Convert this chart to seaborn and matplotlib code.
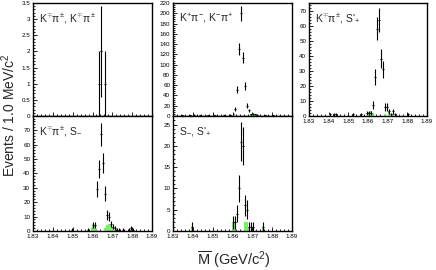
import numpy as np
import pandas as pd
import seaborn as sns
import matplotlib
matplotlib.use("Agg")
import matplotlib.pyplot as plt
from matplotlib.ticker import MultipleLocator, AutoMinorLocator, FuncFormatter, NullFormatter

# bin centres (GeV/c^2) and event counts per 1 MeV bin
kpikpi_mass = [1.8635, 1.8645, 1.8665]
kpikpi_counts = [1, 2, 1]

kpkm_mass = [1.8345, 1.8385, 1.8405, 1.8435, 1.8475, 1.8505, 1.8555, 1.8585, 1.8605,
             1.8615, 1.8625, 1.8635, 1.8645, 1.8655, 1.8665, 1.8675, 1.8685, 1.8695,
             1.8705, 1.8715, 1.8725, 1.8765, 1.8805]
kpkm_counts = [1, 1, 2, 1, 1, 1, 1, 2, 3, 14, 51, 130, 200, 113, 59, 20, 11, 3, 4, 3, 2, 1, 1]
kpkm_bkg_mass = [1.8515, 1.8595, 1.8605, 1.8695, 1.8705, 1.8715, 1.8725]
kpkm_bkg_counts = [2, 1, 2, 3, 4, 3, 2]

kpisp_mass = [1.8405, 1.8425, 1.8435, 1.8525, 1.8565, 1.8595, 1.8605, 1.8615, 1.8625,
              1.8635, 1.8645, 1.8655, 1.8665, 1.8675, 1.8685, 1.8695, 1.8705, 1.8715,
              1.8725, 1.8735, 1.8805]
kpisp_counts = [1, 1, 1, 1, 1, 2, 2, 2, 7, 26, 58, 64, 38, 31, 6, 6, 3, 1, 3, 1, 1]
kpisp_bkg_mass = [1.8405, 1.8605, 1.8615, 1.8625, 1.8685, 1.8705, 1.8725]
kpisp_bkg_counts = [1, 2, 3, 2, 1, 2, 1]

kpism_mass = [1.8495, 1.8575, 1.8605, 1.8615, 1.8625, 1.8635, 1.8645, 1.8655, 1.8665,
              1.8675, 1.8685, 1.8695, 1.8705, 1.8715, 1.8725, 1.8735, 1.8755, 1.8785,
              1.8795, 1.8805]
kpism_counts = [1, 1, 4, 4, 29, 43, 67, 47, 26, 11, 10, 5, 3, 2, 1, 1, 1, 1, 2, 1]
kpism_bkg_mass = [1.8595, 1.8605, 1.8615, 1.8625, 1.8665, 1.8675, 1.8685, 1.8695,
                  1.8705, 1.8715, 1.8795]
kpism_bkg_counts = [2, 5, 4, 1, 2, 4, 5, 4, 2, 1, 1]

smsp_mass = [1.8395, 1.8605, 1.8615, 1.8625, 1.8635, 1.8645, 1.8655, 1.8665, 1.8675,
             1.8685, 1.8695, 1.8705, 1.8755]
smsp_counts = [1, 2, 2, 4, 10, 21, 20, 6, 5, 1, 1, 1, 1]
smsp_bkg_mass = [1.8395, 1.8605, 1.8615, 1.8665, 1.8675, 1.8685, 1.8755]
smsp_bkg_counts = [1, 2, 2, 2, 2, 1, 1]

GREEN = "#77ee66"
W, H = 436, 270


def px_rect(x0, y0, x1, y1):
    # pixel box -> figure fraction
    return [x0 / W, 1 - y1 / H, (x1 - x0) / W, (y1 - y0) / H]


sns.set_theme(style="ticks")
plt.rcParams["font.family"] = ["Liberation Sans", "DejaVu Sans"]
plt.rcParams["mathtext.fontset"] = "custom"
plt.rcParams["mathtext.rm"] = "Liberation Sans"
plt.rcParams["mathtext.it"] = "Liberation Sans"
plt.rcParams["mathtext.bf"] = "Liberation Sans:bold"

fig = plt.figure(figsize=(W / 100, H / 100), dpi=100)

panels = [
    # rect, mass, counts, bkg mass, bkg counts, ymax, ymajor, label, show x labels
    (px_rect(33, 3, 152, 116), kpikpi_mass, kpikpi_counts, [], [], 3.5, 0.5,
     r"K$^{\mp}\pi^{\pm}$, K$^{\mp}\pi^{\pm}$", False),
    (px_rect(173, 3, 292, 116), kpkm_mass, kpkm_counts, kpkm_bkg_mass, kpkm_bkg_counts,
     220, 20, r"K$^{+}\pi^{-}$, K$^{-}\pi^{+}$", False),
    (px_rect(309, 3, 427, 116), kpisp_mass, kpisp_counts, kpisp_bkg_mass, kpisp_bkg_counts,
     75, 10, r"K$^{\mp}\pi^{\pm}$, S$'_{+}$", True),
    (px_rect(33, 116, 152, 231), kpism_mass, kpism_counts, kpism_bkg_mass, kpism_bkg_counts,
     79.8, 10, r"K$^{\mp}\pi^{\pm}$, S$_{-}$", True),
    (px_rect(173, 116, 292, 231), smsp_mass, smsp_counts, smsp_bkg_mass, smsp_bkg_counts,
     27, 5, r"S$_{-}$, S$'_{+}$", True),
]

for rect, mass, counts, bmass, bcounts, ymax, ymajor, label, xlabels in panels:
    ax = fig.add_axes(rect)
    if bmass:
        bkg = pd.DataFrame({"mass": bmass, "n": bcounts})
        sns.histplot(data=bkg, x="mass", weights="n", binwidth=0.001, binrange=(1.83, 1.89),
                     color=GREEN, alpha=1.0, edgecolor="none", linewidth=0, ax=ax)
    counts = np.asarray(counts, dtype=float)
    ax.errorbar(mass, counts, yerr=np.sqrt(counts), xerr=0.0005, fmt="none",
                ecolor="black", elinewidth=0.8, capsize=0)

    ax.set_xlim(1.83, 1.89)
    ax.set_ylim(0, ymax)
    ax.set_xlabel("")
    ax.set_ylabel("")
    ax.xaxis.set_major_locator(MultipleLocator(0.01))
    ax.xaxis.set_minor_locator(MultipleLocator(0.002))
    ax.yaxis.set_major_locator(MultipleLocator(ymajor))
    ax.yaxis.set_minor_locator(AutoMinorLocator(5))
    ax.yaxis.set_major_formatter(FuncFormatter(lambda v, p: f"{v:g}"))
    if xlabels:
        ax.xaxis.set_major_formatter(FuncFormatter(lambda v, p: f"{v:.2f}"))
    else:
        ax.xaxis.set_major_formatter(NullFormatter())
    ax.tick_params(which="both", direction="in", labelsize=4.5, width=0.6, pad=2,
                   colors="black")
    ax.tick_params(which="major", length=3)
    ax.tick_params(which="minor", length=1.5)
    for s in ax.spines.values():
        s.set_linewidth(1.0)
        s.set_color("black")
    ax.set_facecolor("white")
    ax.text(0.05, 0.92, label, transform=ax.transAxes, ha="left", va="top", fontsize=7.5)

fig.text(9 / W, 1 - 115 / H, r"Events / 1.0 MeV/c$^{2}$", rotation=90,
         ha="center", va="center", fontsize=10)
fig.text(234 / W, 1 - 260 / H, r"$\overline{\rm M}$ (GeV/c$^{2}$)",
         ha="center", va="center", fontsize=10.5)

fig.savefig("out.png", dpi=100, facecolor="white")
